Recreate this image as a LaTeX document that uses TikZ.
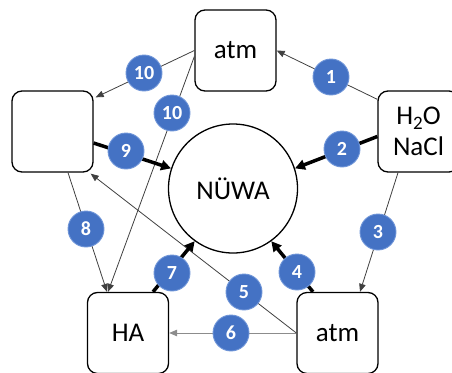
\documentclass[tikz,border=0pt]{standalone}
\usepackage{fontspec}
\setmainfont{Carlito}
\usetikzlibrary{arrows.meta}
\definecolor{badgeblue}{HTML}{4472C4}
\definecolor{badgeedge}{HTML}{6F95D8}
\definecolor{linedark}{HTML}{404040}
\definecolor{linegray}{HTML}{8C8C8C}
\tikzset{
  box/.style={draw=black, line width=1.3pt, rounded corners=10pt, fill=white,
    minimum width=81pt, minimum height=81pt, inner sep=0pt,
    font=\fontsize{27}{31}\selectfont, align=center},
  core/.style={circle, draw=black, line width=1.3pt, fill=white, minimum size=129pt,
    inner sep=0pt, font=\fontsize{27}{31}\selectfont},
  badge/.style={circle, fill=badgeblue, draw=badgeedge, line width=0.9pt,
    minimum size=36pt, inner sep=0pt, text=white,
    font=\fontsize{20}{20}\selectfont\bfseries},
  thin/.style={draw=linedark, line width=0.8pt, -{Triangle[length=8pt,width=6.5pt]}},
  thingray/.style={draw=linegray, line width=1pt, -{Triangle[length=8pt,width=6.5pt]}},
  thick/.style={draw=black, line width=3.5pt, -{Triangle[length=10pt,width=10pt]}, shorten >=0pt},
}
\begin{document}
\begin{tikzpicture}[x=1pt, y=-1pt]
\useasboundingbox (0,0) rectangle (452,372);
\clip (0,0) rectangle (452,372);
% nodes
\node[box] (atmT) at (235.5,50.5) {atm};
\node[box] (left) at (52.5,131.5) {};
\node[box] (h2o) at (418.5,131.5) {H\raisebox{-5pt}{\fontsize{19}{19}\selectfont 2}O\\NaCl};
\node[box] (ha) at (128,333) {HA};
\node[box] (atmB) at (337.5,333) {atm};
\node[core] (nuwa) at (233,188.5) {NÜWA};
% coordinates
\coordinate (s1) at ([yshift=-9pt]h2o.north west);
\coordinate (t10a) at ([xshift=2pt,yshift=-7pt]left.north east);
\coordinate (s10b) at ([yshift=-6pt]atmT.west);
\coordinate (t10b) at ([xshift=-20pt]ha.north);
\coordinate (s9) at ([yshift=-11.5pt]left.east);
\coordinate (s2) at ([yshift=-5pt]h2o.west);
\coordinate (s8) at ([xshift=15.5pt]left.south);
\coordinate (t8) at ([xshift=-21pt]ha.north);
\coordinate (s3) at ([xshift=-20.5pt]h2o.south);
\coordinate (t3) at ([xshift=22.5pt]atmB.north);
\coordinate (s7) at ([xshift=25pt]ha.north);
\coordinate (s4) at ([xshift=-24.5pt]atmB.north);
\coordinate (t5) at ([xshift=-3pt,yshift=-1pt]left.south east);
% connectors
\draw[thin] (s1) -- (atmT.east);
\draw[thin] (atmT.west) -- (t10a);
\draw[thin] (s10b) -- (t10b);
\draw[thin] (s8) -- (t8);
\draw[thin] (s3) -- (t3);
\draw[thin] (atmB.west) -- (t5);
\draw[thingray] (atmB.west) -- (ha.east);
\draw[thick] (s9) -- (nuwa.162);
\draw[thick] (s2) -- (nuwa.18);
\draw[thick] (s7) -- (nuwa.234);
\draw[thick] (s4) -- (nuwa.306);
% badges
\node[badge] (b10a) at (144,73) {10};
\node[badge] (b1) at (331,77) {1};
\node[badge] (b10b) at (172,113) {10};
\node[badge] (b9) at (126,151) {9};
\node[badge] (b2) at (342,149) {2};
\node[badge] (b8) at (86,229) {8};
\node[badge] (b3) at (378,232) {3};
\node[badge] (b7) at (172,273) {7};
\node[badge] (b4) at (297,272) {4};
\node[badge] (b5) at (244,292) {5};
\node[badge] (b6) at (231,333) {6};
\end{tikzpicture}
\end{document}
